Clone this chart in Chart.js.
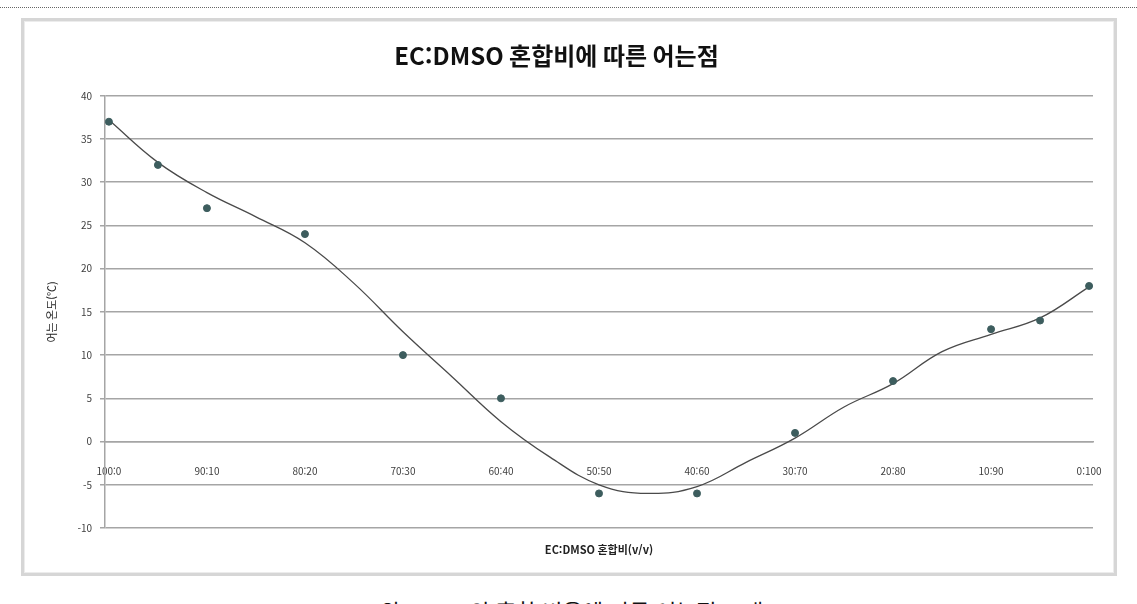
<!DOCTYPE html>
<html lang="ko">
<head>
<meta charset="utf-8">
<script src="https://cdn.jsdelivr.net/npm/chart.js@4.4.0/dist/chart.umd.min.js"></script>
<style>
  html, body { margin: 0; padding: 0; background: #fff; overflow: hidden; }
  body { width: 1137px; height: 604px; position: relative; font-family: "Noto Sans CJK KR", "Noto Sans", sans-serif; }
  .dots { position: absolute; left: 0; top: 7px; width: 1137px; border-top: 1px dotted #666; }
  .frame { position: absolute; left: 21px; top: 18px; width: 1090px; height: 552px; border: 3px solid #d6d6d6; box-shadow: inset 0 0 0 1px #ececec; }
  .caption { position: absolute; left: 0; width: 1137px; top: 594px; text-align: center; font-size: 22px; color: #111; white-space: nowrap; }
  #fazer_grafico { position: absolute; left: 0; top: 0; }
</style>
</head>
<body>
<div class="dots"></div>
<div class="frame"></div>
<div class="caption">EC와 DMSO의 혼합 비율에 따른 어는점 그래프</div>
<canvas id="fazer_grafico" width="1137" height="604"></canvas>
<script>
const categories = ['100:0', '90:10', '80:20', '70:30', '60:40', '50:50', '40:60', '30:70', '20:80', '10:90', '0:100'];

// measured points (position on the category axis, freezing point)
const mixPos = [0, 0.5, 1, 2, 3, 4, 5, 6, 7, 8, 9, 9.5, 10];
const freezingPoints = [37, 32, 27, 24, 10, 5, -6, -6, 1, 7, 13, 14, 18];

// trend curve
const trendPos = [0, 0.5, 1, 1.5, 2, 2.5, 3, 3.5, 4, 4.5, 5, 5.5, 6, 6.5, 7, 7.5, 8, 8.5, 9, 9.5, 10];
const trendValues = [37.2, 32.3, 28.8, 26.0, 23.0, 18.3, 12.7, 7.5, 2.3, -1.8, -5.0, -6.0, -5.2, -2.4, 0.4, 4.0, 6.7, 10.4, 12.4, 14.3, 17.9];

const yMin = -10;
const yMax = 40;
const yStep = 5;

const canvas = document.getElementById('fazer_grafico');
const ctx = canvas.getContext('2d');
const fonte = '"Noto Sans CJK KR", "Noto Sans", sans-serif';

new Chart(ctx, {
    type: 'scatter',
    data: {
        datasets: [{
            label: '어는점',
            data: mixPos.map((x, i) => ({ x: x, y: freezingPoints[i] })),
            xAxisID: 'x',
            yAxisID: 'y',
            backgroundColor: '#3d5d5e',
            borderColor: '#3d5d5e',
            pointRadius: 3.5,
            pointHoverRadius: 3.5,
            order: 1,
        }, {
            label: '추세선',
            data: trendPos.map((x, i) => ({ x: x, y: trendValues[i] })),
            xAxisID: 'x',
            yAxisID: 'y',
            showLine: true,
            borderColor: '#4a4a4a',
            borderWidth: 1.3,
            pointRadius: 0,
            tension: 0.4,
            fill: false,
            order: 2,
        }],
    },
    options: {
        responsive: false,
        animation: false,
        layout: { padding: { left: 20, right: 44, top: 0, bottom: 0 } },
        plugins: {
            legend: { display: false },
            tooltip: { enabled: false },
            title: {
                display: true,
                text: 'EC:DMSO 혼합비에 따른 어는점',
                color: '#111',
                font: { family: fonte, size: 24, weight: 'bold' },
                padding: { top: 41, bottom: 26 },
            },
        },
        scales: {
            x: {
                type: 'linear',
                position: { y: 0 },
                min: -0.04,
                max: categories.length - 1 + 0.04,
                grid: { display: false },
                border: { display: true, color: '#a5a5a5', width: 1.5 },
                afterBuildTicks: scale => {
                    scale.ticks = categories.map((c, i) => ({ value: i }));
                },
                ticks: {
                    padding: 16,
                    maxRotation: 0,
                    autoSkip: false,
                    color: '#404040',
                    font: { family: fonte, size: 10 },
                    callback: v => categories[v] ?? '',
                },
            },
            xTitulo: {
                type: 'linear',
                axis: 'x',
                position: 'bottom',
                grid: { display: false },
                border: { display: false },
                ticks: { display: false },
                title: {
                    display: true,
                    text: 'EC:DMSO 혼합비(v/v)',
                    color: '#222',
                    font: { family: fonte, size: 11, weight: 'bold' },
                    padding: { top: 0, bottom: 48 },
                },
                afterFit: scale => { scale.height = 76; },
            },
            y: {
                min: yMin,
                max: yMax,
                grid: { color: '#a5a5a5', lineWidth: 1.5, tickLength: 5 },
                border: { color: '#a5a5a5', width: 1.5 },
                ticks: {
                    stepSize: yStep,
                    padding: 8,
                    color: '#404040',
                    font: { family: fonte, size: 10 },
                },
                title: {
                    display: true,
                    text: '어는 온도(℃)',
                    color: '#222',
                    font: { family: fonte, size: 11 },
                    padding: { top: 25, bottom: 0 },
                },
                afterFit: scale => { scale.width = 85; },
            },
        },
    },
});
</script>
</body>
</html>
